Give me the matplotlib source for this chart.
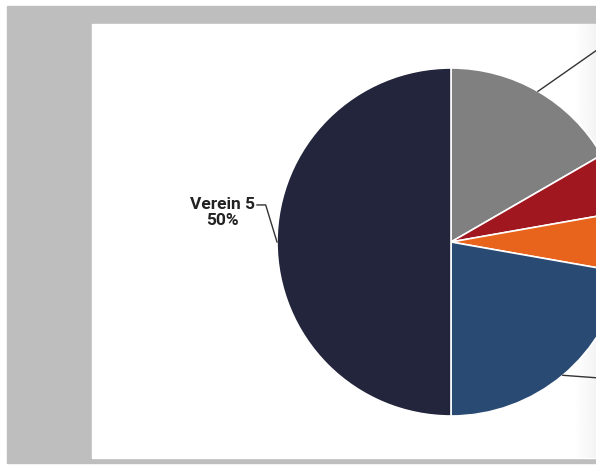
import numpy as np
import matplotlib.pyplot as plt
from matplotlib.patches import Rectangle

# data
vereine = ["Verein 1", "Verein 2", "Verein 3", "Verein 4", "Verein 5"]
anzahl = [3, 1, 1, 4, 9]
farben = ["#808080", "#A0171F", "#E8631C", "#294A73", "#22253B"]

W, H = 596, 466
fig = plt.figure(figsize=(W / 100, H / 100), dpi=100)
fig.patch.set_facecolor("white")

def px(x0, y0, x1, y1):
    # pixel box (top-left origin) -> figure fraction
    return [x0 / W, 1 - y1 / H, (x1 - x0) / W, (y1 - y0) / H]

# grey frame + white panel
fig.patches.append(Rectangle((7 / W, 1 - 463 / H), 1, (463 - 6) / H,
                             transform=fig.transFigure, color="#BEBEBE", zorder=-2))
fig.patches.append(Rectangle((92 / W, 1 - 458 / H), 1, (458 - 24) / H,
                             transform=fig.transFigure, color="white", zorder=-1))

# faint fade at the right edge of the panel
fade = fig.add_axes(px(574, 24, 596, 458))
fade.set_zorder(1)
grad = np.linspace(1.0, 0.955, 64).reshape(1, -1)
fade.imshow(grad, cmap="gray", vmin=0, vmax=1, aspect="auto")
fade.axis("off")

# pie axes, centre (451,242), radius 174 px -> runs off the right edge
cx, cy, R = 451, 242, 174
ax = fig.add_axes(px(cx - R, cy - R, cx + R, cy + R))
ax.set_zorder(2)
wedges, _ = ax.pie(anzahl, colors=farben, startangle=90, counterclock=False,
                   radius=1, wedgeprops=dict(edgecolor="white", linewidth=1.2))
ax.set_xlim(-1, 1)
ax.set_ylim(-1, 1)
ax.set_aspect("equal")
ax.axis("off")

gesamt = sum(anzahl)
# leader end points (pie data units); labels right of the pie lie beyond the canvas
label_pos = [(1.10, 1.23), (1.45, 0.55), (1.45, 0.05), (1.45, -0.82), (-1.115, 0.213)]
for w, name, n, (lx, ly) in zip(wedges, vereine, anzahl, label_pos):
    ang = np.deg2rad((w.theta1 + w.theta2) / 2)
    ex, ey = np.cos(ang), np.sin(ang)
    if lx < 0:
        knick = (lx + 0.05, ly)
    else:
        knick = (lx - 0.08, ly)
    ax.plot([ex, knick[0], lx], [ey, knick[1], ly], color="#333333",
            lw=1.0, clip_on=False)
    if lx < 0:
        ax.text(lx - 0.2, ly - 0.045, "%s\n%d%%" % (name, round(100 * n / gesamt)),
                ha="center", va="center", fontsize=12.5, fontweight="bold",
                family=["Liberation Sans Narrow", "Roboto", "DejaVu Sans"],
                fontstretch="condensed", color="#222222", linespacing=1.05)

fig.savefig("out.png", dpi=100)
